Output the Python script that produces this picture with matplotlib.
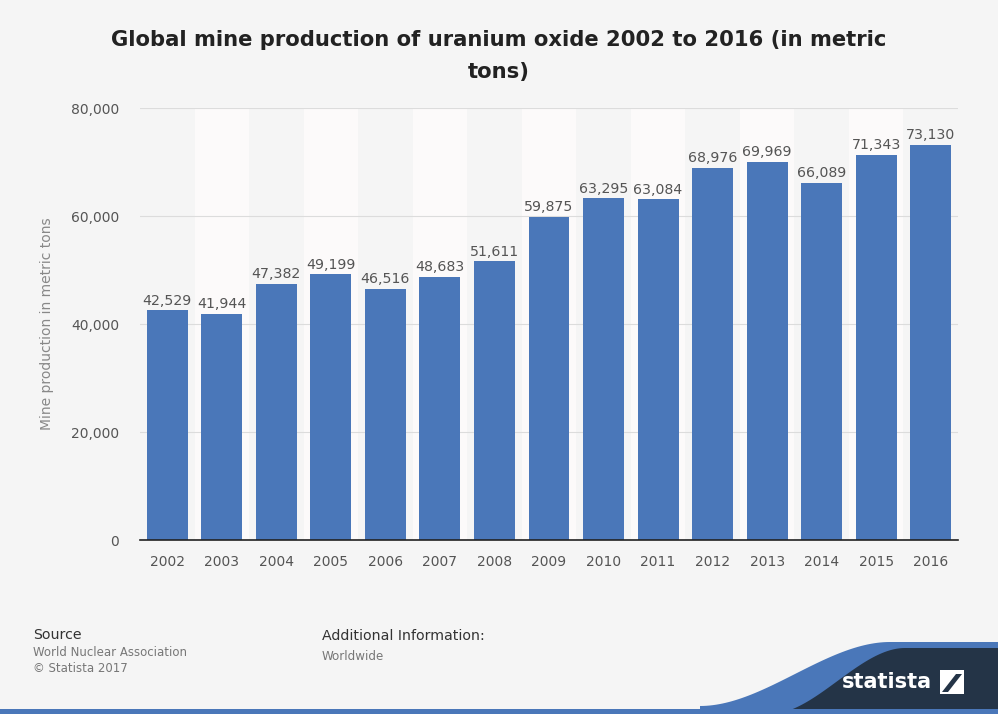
import numpy as np
import matplotlib
matplotlib.use('Agg')
from matplotlib import pyplot as plt
from matplotlib.patches import Polygon, Rectangle

years = ['2002', '2003', '2004', '2005', '2006', '2007', '2008', '2009',
         '2010', '2011', '2012', '2013', '2014', '2015', '2016']
production = [42529, 41944, 47382, 49199, 46516, 48683, 51611, 59875,
              63295, 63084, 68976, 69969, 66089, 71343, 73130]
yticks = [0, 20000, 40000, 60000, 80000]

bg = '#f5f5f5'
bar_color = '#4a77b9'
text_color = '#555555'

fig = plt.figure(figsize=(9.98, 7.14), dpi=100, facecolor=bg)
ax = fig.add_axes([140 / 998, 1 - 540 / 714, 818 / 998, 432 / 714])
ax.set_facecolor(bg)

x = np.arange(len(years))
# alternate lighter column bands
for i in x:
    if i % 2 == 1:
        ax.axvspan(i - 0.5, i + 0.5, color='#fcfafa', zorder=0, lw=0)

ax.bar(x, production, width=0.75, color=bar_color, zorder=3)
for xi, v in zip(x, production):
    ax.text(xi, v + 500, f'{v:,}', ha='center', va='bottom',
            fontsize=10.2, color=text_color, zorder=4)

ax.set_xlim(-0.5, len(years) - 0.5)
ax.set_ylim(0, 80000)
ax.set_yticks(yticks)
ax.set_yticklabels([f'{t:,}' for t in yticks])
ax.set_xticks(x)
ax.set_xticklabels(years)
ax.tick_params(axis='both', length=0, labelsize=10, labelcolor=text_color)
ax.tick_params(axis='x', pad=11)
ax.tick_params(axis='y', pad=15)
ax.grid(axis='y', color='#dcdcdc', linestyle='-', lw=0.8, zorder=1)
for s in ['top', 'right', 'left']:
    ax.spines[s].set_visible(False)
ax.spines['bottom'].set_color('#222222')
ax.spines['bottom'].set_linewidth(1.2)
ax.spines['bottom'].set_zorder(5)
ax.set_ylabel('Mine production in metric tons', fontsize=10, color='#888888',
              labelpad=12)

fig.text(0.5, 1 - 40 / 714, 'Global mine production of uranium oxide 2002 to 2016 (in metric',
         ha='center', va='center', fontsize=15.2, fontweight='bold', color='#222222')
fig.text(0.5, 1 - 72 / 714, 'tons)', ha='center', va='center', fontsize=15.2,
         fontweight='bold', color='#222222')

# footer
fig.text(33 / 998, 1 - 635 / 714, 'Source', fontsize=10.2, color='#333333', va='center')
fig.text(33 / 998, 1 - 652 / 714, 'World Nuclear Association', fontsize=8.5, color='#777777', va='center')
fig.text(33 / 998, 1 - 668 / 714, '\u00a9 Statista 2017', fontsize=8.5, color='#777777', va='center')
fig.text(322 / 998, 1 - 636 / 714, 'Additional Information:', fontsize=10.2, color='#333333', va='center')
fig.text(322 / 998, 1 - 656 / 714, 'Worldwide', fontsize=8.6, color='#777777', va='center')

# logo swoosh
def px(xp, yp):
    return (xp / 998, 1 - yp / 714)

t = np.linspace(0, 1, 60)
blue_curve = [px(700 + 190 * tt, 706 - 64 * (3 * tt ** 2 - 2 * tt ** 3)) for tt in t]
blue_pts = blue_curve + [px(998, 642), px(998, 714), px(700, 714)]
fig.patches.append(Polygon(blue_pts, closed=True, transform=fig.transFigure,
                           color='#4a77b9', lw=0))
dark_curve = [px(770 + 135 * tt, 714 - 66 * (3 * tt ** 2 - 2 * tt ** 3)) for tt in t]
dark_pts = dark_curve + [px(998, 648), px(998, 714), px(770, 714)]
fig.patches.append(Polygon(dark_pts, closed=True, transform=fig.transFigure,
                           color='#243447', lw=0))
fig.patches.append(Rectangle(px(0, 714), 1, 5 / 714, transform=fig.transFigure,
                             color='#4a77b9', lw=0))
fig.text(887 / 998, 1 - 682 / 714, 'statista', fontsize=15, fontweight='bold',
         color='white', ha='center', va='center')
fig.patches.append(Rectangle(px(940, 694), 24 / 998, 24 / 714, transform=fig.transFigure,
                             color='white', lw=0))
fig.patches.append(Polygon([px(942, 692), px(956, 674), px(962, 674), px(948, 692)],
                           closed=True, transform=fig.transFigure, color='#243447', lw=0))

fig.savefig('out.png', dpi=100, facecolor=bg)
